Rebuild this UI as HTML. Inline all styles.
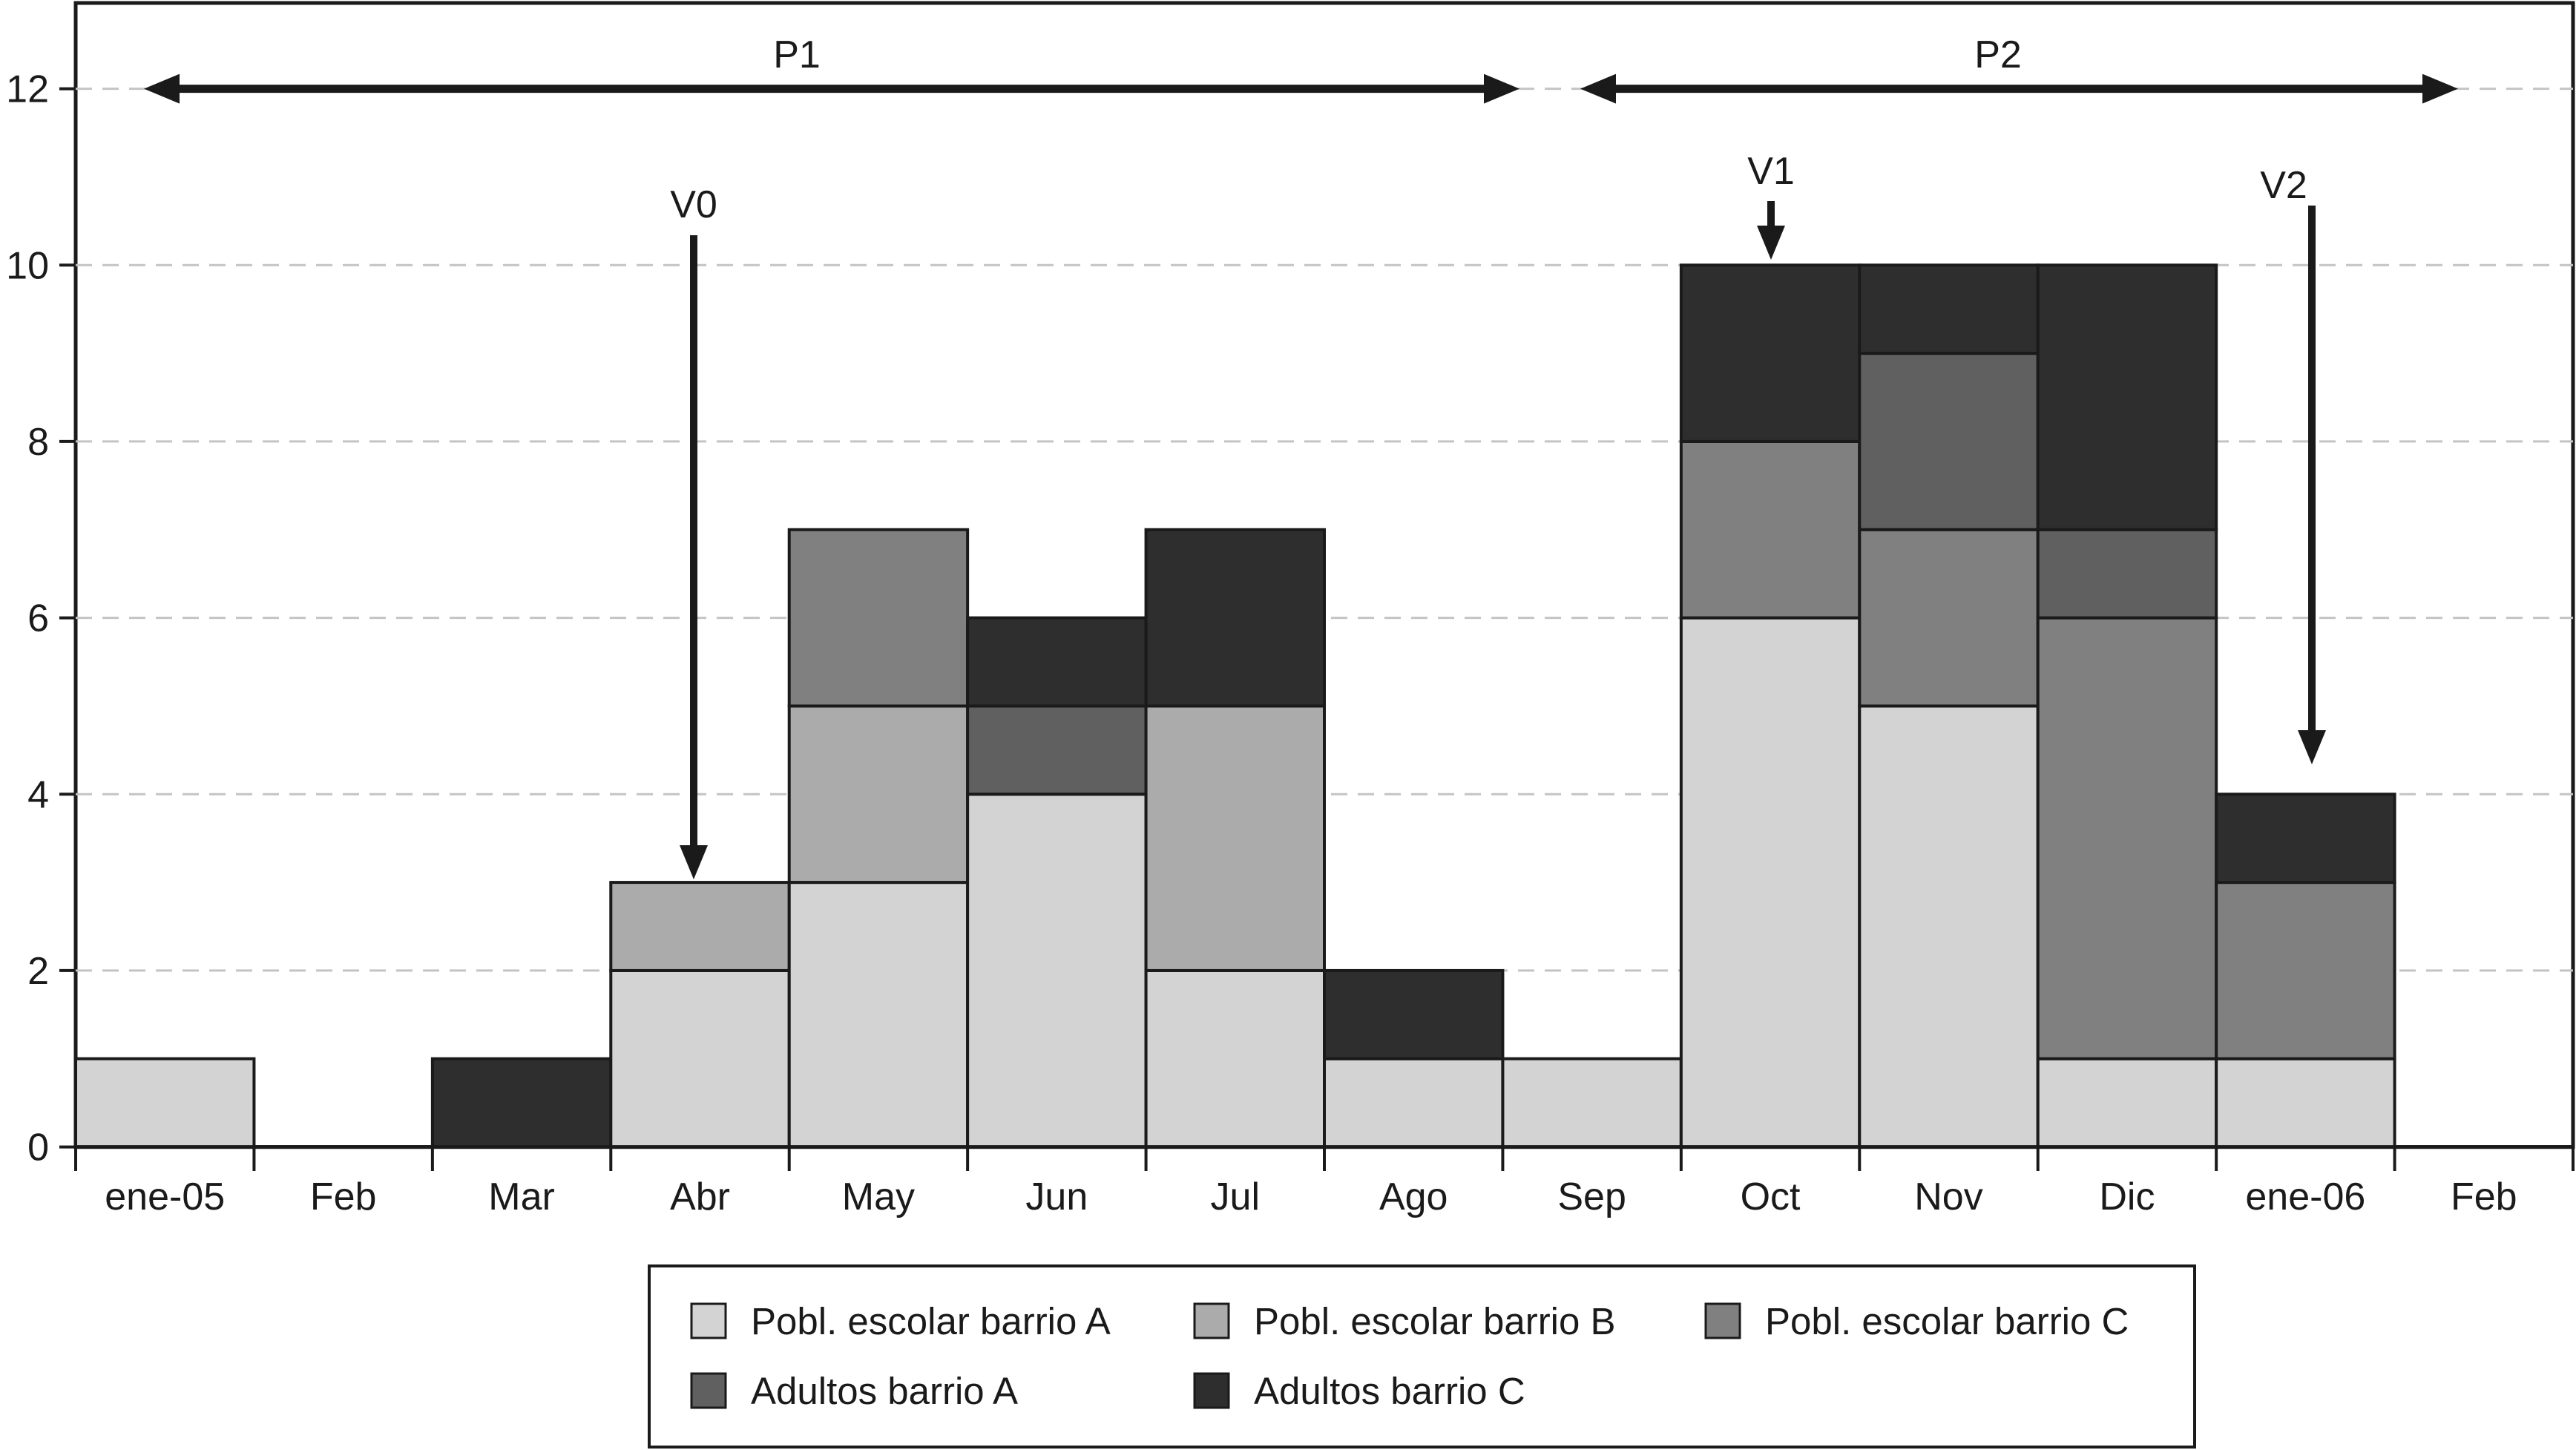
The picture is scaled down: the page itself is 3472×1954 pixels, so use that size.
<!DOCTYPE html>
<html><head><meta charset="utf-8"><style>
html,body{margin:0;padding:0;background:#fff}
svg{display:block}
text{font-family:"Liberation Sans",sans-serif;fill:#1a1a1a}
</style></head><body>
<svg id="chart" width="3472" height="1954" viewBox="0 0 3472 1954" xmlns="http://www.w3.org/2000/svg"></svg>
<script>
const months = ["ene-05","Feb","Mar","Abr","May","Jun","Jul","Ago","Sep","Oct","Nov","Dic","ene-06","Feb"];
const seriesNames = ["Pobl. escolar barrio A","Pobl. escolar barrio B","Pobl. escolar barrio C","Adultos barrio A","Adultos barrio C"];
const escolarA = [1,0,0,2,3,4,2,1,1,6,5,1,1,0];
const escolarB = [0,0,0,1,2,0,3,0,0,0,0,0,0,0];
const escolarC = [0,0,0,0,2,0,0,0,0,2,2,5,2,0];
const adultosA = [0,0,0,0,0,1,0,0,0,0,2,1,0,0];
const adultosC = [0,0,1,0,0,1,2,1,0,2,1,3,1,0];
const yTicks = [0,2,4,6,8,10,12];

const colors = ["#d3d3d3","#ababab","#808080","#606060","#2e2e2e"];
const seriesData = [escolarA,escolarB,escolarC,adultosA,adultosC];
const NS="http://www.w3.org/2000/svg";
const svg=document.getElementById('chart');
const L=102,R=3468,T=4,Y0=1545.6,Y12=119.6;
const bw=(R-L)/months.length;
function x(i){return L+i*bw;}
function y(v){return Y0-(Y0-Y12)*v/12;}
function el(tag,attrs,parent){const e=document.createElementNS(NS,tag);for(const k in attrs)e.setAttribute(k,attrs[k]);(parent||svg).appendChild(e);return e;}

const frame=el('rect',{x:L,y:T,width:R-L,height:Y0-T,fill:'none',stroke:'#1a1a1a','stroke-width':5});



yTicks.forEach(v=>{
  if(v>0){
    const g=el('line',{x1:L,x2:R,y1:y(v),y2:y(v),stroke:'#c4c4c4','stroke-width':3,'stroke-dasharray':'22 14'});
    
    
  }
  const tk=el('line',{x1:L-22,x2:L,y1:y(v),y2:y(v),stroke:'#1a1a1a','stroke-width':4});
  
  
  const t=el('text',{x:L-36,y:y(v)+18,'font-size':52,'text-anchor':'end'});
  t.textContent=v;
  
  
});

months.forEach((m,i)=>{
  let base=0;
  seriesData.forEach((s,k)=>{
    const v=s[i];
    if(v>0){
      const r=el('rect',{x:x(i),y:y(base+v),width:bw,height:y(base)-y(base+v),fill:colors[k],stroke:'#1a1a1a','stroke-width':4});
      
      
      base+=v;
    }
  });
  const t=el('text',{x:x(i)+bw/2,y:1630,'font-size':52,'text-anchor':'middle'});
  t.textContent=m;
  
  
});
const ax=el('line',{x1:L,x2:R,y1:Y0,y2:Y0,stroke:'#1a1a1a','stroke-width':5});


for(let i=0;i<=months.length;i++){
  const tk=el('line',{x1:x(i),x2:x(i),y1:Y0,y2:1578,stroke:'#1a1a1a','stroke-width':4});
  
  
}

function hArrow(x1,x2,yy,name){
  const g=el('g',{});
  
  
  el('line',{x1:x1+40,x2:x2-40,y1:yy,y2:yy,stroke:'#1a1a1a','stroke-width':11},g);
  el('polygon',{points:`${x1},${yy} ${x1+48},${yy-20} ${x1+48},${yy+20}`,fill:'#1a1a1a'},g);
  el('polygon',{points:`${x2},${yy} ${x2-48},${yy-20} ${x2-48},${yy+20}`,fill:'#1a1a1a'},g);
}
function vArrow(xx,y1,y2,name){
  const g=el('g',{});
  
  
  el('line',{x1:xx,x2:xx,y1:y1,y2:y2-40,stroke:'#1a1a1a','stroke-width':10},g);
  el('polygon',{points:`${xx},${y2} ${xx-19},${y2-46} ${xx+19},${y2-46}`,fill:'#1a1a1a'},g);
}
hArrow(194,2048,y(12),'period-p1-arrow');
hArrow(2130,3313,y(12),'period-p2-arrow');
vArrow(935,317,1185,'v0-arrow');
vArrow(2387,271,350,'v1-arrow');
vArrow(3116,277,1030,'v2-arrow');
[["P1",1074,91],["P2",2693,91],["V0",935,293],["V1",2387,248],["V2",3078,267]].forEach(a=>{
  const t=el('text',{x:a[1],y:a[2],'font-size':52,'text-anchor':'middle'});
  t.textContent=a[0];
  
  
});

const lg=el('g',{});


el('rect',{x:875,y:1706,width:2083,height:244,fill:'#fff',stroke:'#1a1a1a','stroke-width':4},lg);
const lpos=[[932,1780],[1610,1780],[2299,1780],[932,1874],[1610,1874]];
seriesNames.forEach((n,k)=>{
  const g=el('g',{},lg);
  
  
  el('rect',{x:lpos[k][0],y:lpos[k][1]-23,width:46,height:46,fill:colors[k],stroke:'#1a1a1a','stroke-width':3},g);
  const t=el('text',{x:lpos[k][0]+80,y:lpos[k][1]+18,'font-size':51},g);
  t.textContent=n;
});
</script>
</body></html>
